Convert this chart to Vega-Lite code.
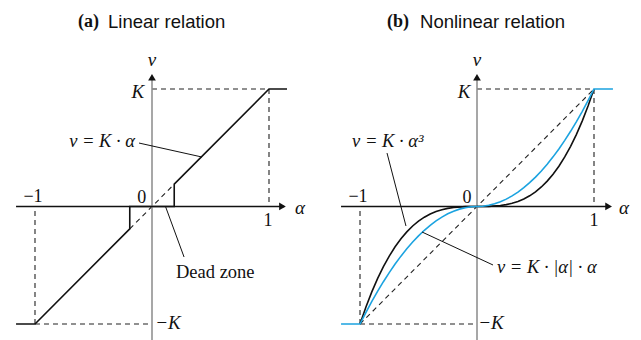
{
  "$schema": "https://vega.github.io/schema/vega-lite/v6.json",
  "padding": 0,
  "spacing": 0,
  "background": "white",
  "config": {"view": {"stroke": null}, "concat": {"spacing": 0}},
  "hconcat": [
    {
      "width": 320,
      "height": 340,
      "encoding": {
        "x": {"field": "x", "type": "quantitative", "scale": {"domain": [-1.2991, 1.4359], "nice": false, "zero": false}, "axis": null},
        "y": {"field": "y", "type": "quantitative", "scale": {"domain": [-1.1362, 1.7574], "nice": false, "zero": false}, "axis": null}
      },
      "layer": [
        {
          "data": {"values": [
            {"x": 0, "y": 1, "x2": 1, "y2": 1},
            {"x": 1, "y": 1, "x2": 1, "y2": 0},
            {"x": -1, "y": -1, "x2": 0, "y2": -1},
            {"x": -1, "y": -1, "x2": -1, "y2": 0},
            {"x": -0.19, "y": -0.19, "x2": 0.19, "y2": 0.19}
          ]},
          "mark": {"type": "rule", "strokeDash": [5, 4], "color": "#222222", "strokeWidth": 1.1},
          "encoding": {"x2": {"field": "x2"}, "y2": {"field": "y2"}}
        },
        {
          "data": {"values": [{"x": -1.162, "y": 0, "x2": 1.13, "y2": 0}]},
          "mark": {"type": "rule", "color": "#111111", "strokeWidth": 1.3},
          "encoding": {"x2": {"field": "x2"}, "y2": {"field": "y2"}}
        },
        {
          "data": {"values": [{"x": 0, "y": -1.14, "x2": 0, "y2": 1.1}]},
          "mark": {"type": "rule", "color": "#8a8a8a", "strokeWidth": 1.5},
          "encoding": {"x2": {"field": "x2"}, "y2": {"field": "y2"}}
        },
        {
          "data": {"values": [{"x": 1.115, "y": 0}]},
          "mark": {"type": "point", "shape": "triangle-right", "filled": true, "color": "#111111", "size": 60, "opacity": 1}
        },
        {
          "data": {"values": [{"x": 0, "y": 1.1}]},
          "mark": {"type": "point", "shape": "triangle-up", "filled": true, "color": "#111111", "size": 60, "opacity": 1}
        },
        {
          "data": {"values": [
            {"i": 0, "x": -1.162, "y": -1},
            {"i": 1, "x": -1, "y": -1},
            {"i": 2, "x": -0.19, "y": -0.19},
            {"i": 3, "x": -0.19, "y": 0},
            {"i": 4, "x": 0.19, "y": 0},
            {"i": 5, "x": 0.19, "y": 0.19},
            {"i": 6, "x": 1, "y": 1},
            {"i": 7, "x": 1.154, "y": 1}
          ]},
          "mark": {"type": "line", "color": "#111111", "strokeWidth": 1.6},
          "encoding": {"order": {"field": "i", "type": "quantitative"}}
        },
        {
          "data": {"values": [
            {"x": -0.111, "y": 0.54, "x2": 0.427, "y2": 0.421},
            {"x": 0.117, "y": -0.004, "x2": 0.274, "y2": -0.43}
          ]},
          "mark": {"type": "rule", "color": "#111111", "strokeWidth": 1},
          "encoding": {"x2": {"field": "x2"}, "y2": {"field": "y2"}}
        },
        {
          "data": {"values": [
            {"x": -0.12, "y": 0.974, "label": "K"},
            {"x": 0, "y": 1.25, "label": "v"},
            {"x": 0.137, "y": -0.991, "label": "−K"},
            {"x": 1.265, "y": -0.01, "label": "α"}
          ]},
          "mark": {"type": "text", "font": "Liberation Serif", "fontStyle": "italic", "fontSize": 19, "align": "center", "baseline": "middle", "color": "#111111"},
          "encoding": {"text": {"field": "label"}}
        },
        {
          "data": {"values": [
            {"x": -0.145, "y": 0.557, "label": "v = K · α"}
          ]},
          "mark": {"type": "text", "font": "Liberation Serif", "fontStyle": "italic", "fontSize": 18.5, "align": "right", "baseline": "middle", "color": "#111111"},
          "encoding": {"text": {"field": "label"}}
        },
        {
          "data": {"values": [
            {"x": -0.088, "y": 0.075, "label": "0"},
            {"x": -1.017, "y": 0.081, "label": "−1"},
            {"x": 0.991, "y": -0.123, "label": "1"}
          ]},
          "mark": {"type": "text", "font": "Liberation Serif", "fontSize": 18, "align": "center", "baseline": "middle", "color": "#111111"},
          "encoding": {"text": {"field": "label"}}
        },
        {
          "data": {"values": [
            {"x": 0.205, "y": -0.557, "label": "Dead zone"}
          ]},
          "mark": {"type": "text", "font": "Liberation Serif", "fontSize": 18.5, "align": "left", "baseline": "middle", "color": "#111111"},
          "encoding": {"text": {"field": "label"}}
        },
        {
          "data": {"values": [{"x": -0.453, "y": 1.57, "label": "(a)"}]},
          "mark": {"type": "text", "font": "Liberation Serif", "fontWeight": "bold", "fontSize": 18, "align": "right", "baseline": "middle", "color": "#111111"},
          "encoding": {"text": {"field": "label"}}
        },
        {
          "data": {"values": [{"x": -0.376, "y": 1.57, "label": "Linear relation"}]},
          "mark": {"type": "text", "font": "Liberation Sans", "fontSize": 18.5, "align": "left", "baseline": "middle", "color": "#111111"},
          "encoding": {"text": {"field": "label"}}
        }
      ]
    },
    {
      "width": 321,
      "height": 340,
      "encoding": {
        "x": {"field": "x", "type": "quantitative", "scale": {"domain": [-1.3419, 1.4017], "nice": false, "zero": false}, "axis": null},
        "y": {"field": "y", "type": "quantitative", "scale": {"domain": [-1.1362, 1.7574], "nice": false, "zero": false}, "axis": null}
      },
      "layer": [
        {
          "data": {"values": [
            {"x": 0, "y": 1, "x2": 1, "y2": 1},
            {"x": 1, "y": 1, "x2": 1, "y2": 0},
            {"x": -1, "y": -1, "x2": 0, "y2": -1},
            {"x": -1, "y": -1, "x2": -1, "y2": 0},
            {"x": -1, "y": -1, "x2": 1, "y2": 1}
          ]},
          "mark": {"type": "rule", "strokeDash": [5, 4], "color": "#222222", "strokeWidth": 1.1},
          "encoding": {"x2": {"field": "x2"}, "y2": {"field": "y2"}}
        },
        {
          "data": {"values": [{"x": -1.162, "y": 0, "x2": 1.13, "y2": 0}]},
          "mark": {"type": "rule", "color": "#111111", "strokeWidth": 1.3},
          "encoding": {"x2": {"field": "x2"}, "y2": {"field": "y2"}}
        },
        {
          "data": {"values": [{"x": 0, "y": -1.14, "x2": 0, "y2": 1.1}]},
          "mark": {"type": "rule", "color": "#8a8a8a", "strokeWidth": 1.5},
          "encoding": {"x2": {"field": "x2"}, "y2": {"field": "y2"}}
        },
        {
          "data": {"values": [{"x": 1.125, "y": 0}]},
          "mark": {"type": "point", "shape": "triangle-right", "filled": true, "color": "#111111", "size": 60, "opacity": 1}
        },
        {
          "data": {"values": [{"x": 0, "y": 1.1}]},
          "mark": {"type": "point", "shape": "triangle-up", "filled": true, "color": "#111111", "size": 60, "opacity": 1}
        },
        {
          "data": {"values": [
            {"x": -1, "y": -1}, {"x": -0.95, "y": -0.857}, {"x": -0.9, "y": -0.729}, {"x": -0.85, "y": -0.614},
            {"x": -0.8, "y": -0.512}, {"x": -0.75, "y": -0.422}, {"x": -0.7, "y": -0.343}, {"x": -0.65, "y": -0.275},
            {"x": -0.6, "y": -0.216}, {"x": -0.55, "y": -0.166}, {"x": -0.5, "y": -0.125}, {"x": -0.45, "y": -0.091},
            {"x": -0.4, "y": -0.064}, {"x": -0.35, "y": -0.043}, {"x": -0.3, "y": -0.027}, {"x": -0.25, "y": -0.016},
            {"x": -0.2, "y": -0.008}, {"x": -0.1, "y": -0.001}, {"x": 0, "y": 0},
            {"x": 0.1, "y": 0.001}, {"x": 0.2, "y": 0.008}, {"x": 0.25, "y": 0.016}, {"x": 0.3, "y": 0.027},
            {"x": 0.35, "y": 0.043}, {"x": 0.4, "y": 0.064}, {"x": 0.45, "y": 0.091}, {"x": 0.5, "y": 0.125},
            {"x": 0.55, "y": 0.166}, {"x": 0.6, "y": 0.216}, {"x": 0.65, "y": 0.275}, {"x": 0.7, "y": 0.343},
            {"x": 0.75, "y": 0.422}, {"x": 0.8, "y": 0.512}, {"x": 0.85, "y": 0.614}, {"x": 0.9, "y": 0.729},
            {"x": 0.95, "y": 0.857}, {"x": 1, "y": 1}
          ]},
          "mark": {"type": "line", "color": "#111111", "strokeWidth": 1.6},
          "encoding": {"order": {"field": "x", "type": "quantitative"}}
        },
        {
          "data": {"values": [
            {"x": -1.162, "y": -1},
            {"x": -1, "y": -1}, {"x": -0.95, "y": -0.9025}, {"x": -0.9, "y": -0.81}, {"x": -0.85, "y": -0.7225},
            {"x": -0.8, "y": -0.64}, {"x": -0.75, "y": -0.5625}, {"x": -0.7, "y": -0.49}, {"x": -0.65, "y": -0.4225},
            {"x": -0.6, "y": -0.36}, {"x": -0.55, "y": -0.3025}, {"x": -0.5, "y": -0.25}, {"x": -0.45, "y": -0.2025},
            {"x": -0.4, "y": -0.16}, {"x": -0.35, "y": -0.1225}, {"x": -0.3, "y": -0.09}, {"x": -0.25, "y": -0.0625},
            {"x": -0.2, "y": -0.04}, {"x": -0.15, "y": -0.0225}, {"x": -0.1, "y": -0.01}, {"x": -0.05, "y": -0.0025}, {"x": 0, "y": 0},
            {"x": 0.05, "y": 0.0025}, {"x": 0.1, "y": 0.01}, {"x": 0.15, "y": 0.0225}, {"x": 0.2, "y": 0.04},
            {"x": 0.25, "y": 0.0625}, {"x": 0.3, "y": 0.09}, {"x": 0.35, "y": 0.1225}, {"x": 0.4, "y": 0.16},
            {"x": 0.45, "y": 0.2025}, {"x": 0.5, "y": 0.25}, {"x": 0.55, "y": 0.3025}, {"x": 0.6, "y": 0.36},
            {"x": 0.65, "y": 0.4225}, {"x": 0.7, "y": 0.49}, {"x": 0.75, "y": 0.5625}, {"x": 0.8, "y": 0.64},
            {"x": 0.85, "y": 0.7225}, {"x": 0.9, "y": 0.81}, {"x": 0.95, "y": 0.9025}, {"x": 1, "y": 1},
            {"x": 1.162, "y": 1}
          ]},
          "mark": {"type": "line", "color": "#1ba3e0", "strokeWidth": 1.6},
          "encoding": {"order": {"field": "x", "type": "quantitative"}}
        },
        {
          "data": {"values": [
            {"x": -0.769, "y": 0.455, "x2": -0.607, "y2": -0.166},
            {"x": -0.47, "y": -0.217, "x2": 0.137, "y2": -0.498}
          ]},
          "mark": {"type": "rule", "color": "#111111", "strokeWidth": 1},
          "encoding": {"x2": {"field": "x2"}, "y2": {"field": "y2"}}
        },
        {
          "data": {"values": [
            {"x": -0.111, "y": 0.974, "label": "K"},
            {"x": 0, "y": 1.25, "label": "v"},
            {"x": 0.12, "y": -0.991, "label": "−K"},
            {"x": 1.256, "y": -0.01, "label": "α"}
          ]},
          "mark": {"type": "text", "font": "Liberation Serif", "fontStyle": "italic", "fontSize": 19, "align": "center", "baseline": "middle", "color": "#111111"},
          "encoding": {"text": {"field": "label"}}
        },
        {
          "data": {"values": [
            {"x": -1.068, "y": 0.557, "label": "v = K · α³"},
            {"x": 0.171, "y": -0.515, "label": "v = K · |α| · α"}
          ]},
          "mark": {"type": "text", "font": "Liberation Serif", "fontStyle": "italic", "fontSize": 18.5, "align": "left", "baseline": "middle", "color": "#111111"},
          "encoding": {"text": {"field": "label"}}
        },
        {
          "data": {"values": [
            {"x": -0.085, "y": 0.075, "label": "0"},
            {"x": -1.017, "y": 0.081, "label": "−1"},
            {"x": 1.0, "y": -0.123, "label": "1"}
          ]},
          "mark": {"type": "text", "font": "Liberation Serif", "fontSize": 18, "align": "center", "baseline": "middle", "color": "#111111"},
          "encoding": {"text": {"field": "label"}}
        },
        {
          "data": {"values": [{"x": -0.581, "y": 1.57, "label": "(b)"}]},
          "mark": {"type": "text", "font": "Liberation Serif", "fontWeight": "bold", "fontSize": 18, "align": "right", "baseline": "middle", "color": "#111111"},
          "encoding": {"text": {"field": "label"}}
        },
        {
          "data": {"values": [{"x": -0.487, "y": 1.57, "label": "Nonlinear relation"}]},
          "mark": {"type": "text", "font": "Liberation Sans", "fontSize": 18.5, "align": "left", "baseline": "middle", "color": "#111111"},
          "encoding": {"text": {"field": "label"}}
        }
      ]
    }
  ]
}
